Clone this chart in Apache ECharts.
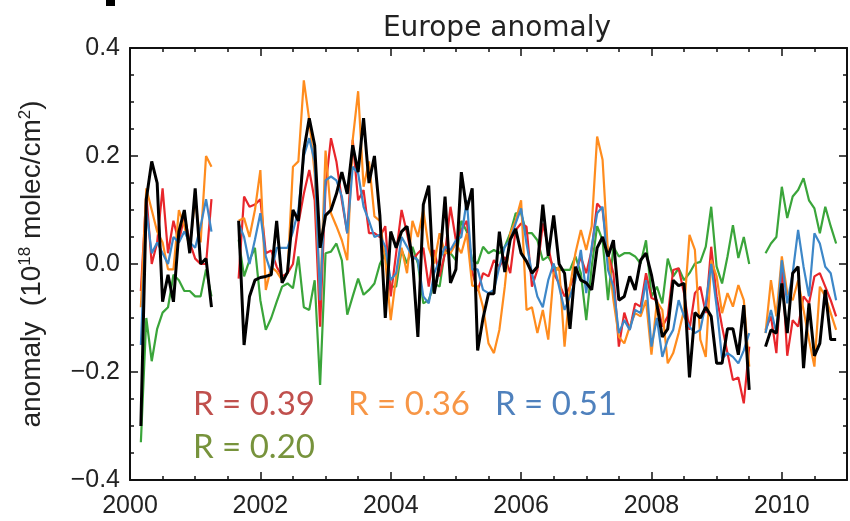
<!DOCTYPE html>
<html lang="en">
<head>
    <meta charset="UTF-8">
    <title>Europe anomaly</title>
    <script src="https://cdn.jsdelivr.net/npm/echarts@6/dist/echarts.min.js"></script>
    <style>
        html, body { margin: 0; padding: 0; background: #fff; }
        #container { width: 850px; height: 521px; }
    </style>
</head>
<body>
<div id="container"></div>

<script type="text/javascript">
    // monthly anomalies, three data segments (month index from Jan 2000)
    var startYear = 2000;
    var segStarts = [2, 20, 117];

    var red1 = [-0.05, 0.13, 0.00, 0.04, 0.14, 0.02, 0.08, 0.04, 0.09, 0.04, 0.01, 0.00, 0.00, 0.12];
    var red2 = [
        -0.027, 0.125, 0.106, 0.11, 0.12, 0.02, 0.025, -0.005, -0.023, -0.017,
        0.0, 0.075, 0.13, 0.174, 0.118, -0.116, 0.143, 0.233, 0.19, 0.118,
        0.057, 0.23, 0.118, 0.137, 0.057, 0.057, 0.05, 0.07, -0.06, 0.02,
        0.10, 0.057, 0.007, 0.02, 0.03, -0.042, 0.026, -0.023, 0.02, 0.106,
        0.044, 0.063, 0.08, -0.015, -0.05, -0.017, -0.023, 0.007, -0.005, 0.013,
        -0.017, 0.063, 0.075, 0.069, -0.042, -0.011, 0.075, 0.032, -0.017, -0.036,
        -0.06, -0.042, -0.017, 0.013, -0.017, 0.026, 0.112, 0.10, 0.02, -0.017,
        -0.153, -0.09, -0.122, -0.073, -0.079, -0.017, -0.063, -0.067, -0.116, -0.097,
        -0.011, -0.008, -0.054, -0.122, -0.054, -0.042, -0.091, 0.032, -0.06, -0.116,
        -0.165, -0.215, -0.21, -0.258, -0.153
    ];
    var red3 = [-0.122, -0.097, -0.165, 0.0, -0.17, -0.104, -0.116, -0.06, -0.073, -0.023, -0.017, -0.042, -0.067, -0.097];

    var orange1 = [-0.08, 0.14, 0.10, 0.06, 0.04, -0.01, -0.01, 0.10, 0.07, 0.03, 0.12, 0.04, 0.20, 0.18];
    var orange2 = [
        0.08, 0.085, 0.05, 0.10, 0.174, -0.048, -0.005, -0.014, -0.03, -0.017,
        0.18, 0.19, 0.34, 0.267, 0.168, -0.067, 0.21, 0.094, 0.07, 0.044,
        0.007, 0.23, 0.32, 0.143, 0.19, 0.088, 0.08, 0.007, -0.104, -0.023,
        0.03, -0.017, 0.08, 0.05, 0.10, 0.03, 0.001, 0.057, 0.02, 0.02,
        0.038, 0.02, 0.057, -0.04, -0.042, -0.08, -0.147, -0.165, -0.122, -0.042,
        0.057, 0.08, 0.118, -0.085, -0.08, -0.128, -0.085, -0.14, -0.017, -0.005,
        -0.153, -0.042, 0.02, 0.063, 0.026, 0.07, 0.236, 0.193, 0.02, -0.067,
        -0.135, -0.147, -0.116, -0.091, -0.097, -0.067, -0.168, -0.07, -0.085, -0.184,
        -0.165, -0.128, -0.085, 0.054, 0.026, -0.14, -0.172, 0.007, -0.023, -0.091,
        -0.054, -0.079, -0.039, -0.067, -0.19
    ];
    var orange3 = [-0.128, -0.03, -0.097, 0.014, -0.054, -0.067, -0.03, -0.085, -0.14, -0.19, -0.042, -0.06, -0.091, -0.122];

    var blue1 = [-0.15, 0.10, 0.02, 0.04, 0.02, 0.00, 0.05, 0.04, 0.06, 0.04, 0.03, 0.07, 0.12, 0.06];
    var blue2 = [
        0.075, 0.05, 0.0, 0.045, 0.094, 0.014, -0.017, 0.03, 0.03, 0.03,
        0.06, 0.10, 0.20, 0.233, 0.19, -0.067, 0.155, 0.162, 0.155, 0.125,
        0.057, 0.18, 0.168, 0.106, 0.08, 0.05, 0.054, 0.032, -0.03, -0.017,
        0.05, 0.032, 0.014, 0.007, -0.06, -0.073, -0.017, 0.007, 0.032, 0.026,
        0.044, 0.05, 0.118, -0.01, -0.01, -0.048, -0.054, -0.048, -0.005, 0.032,
        0.044, 0.075, 0.103, 0.038, -0.017, -0.06, -0.08, -0.03, 0.001, -0.042,
        -0.085, -0.06, -0.03, 0.026, -0.054, 0.032, 0.094, 0.106, -0.011, -0.042,
        -0.128, -0.104, -0.122, -0.085, -0.091, -0.03, -0.153, -0.1, -0.172, -0.14,
        -0.122, -0.067, -0.097, -0.116, -0.128, -0.122, -0.073, 0.0, -0.079, -0.175,
        -0.165, -0.172, -0.184, -0.16, -0.128
    ];
    var blue3 = [-0.128, -0.085, -0.128, 0.007, -0.073, -0.017, 0.063, -0.005, -0.06, 0.057, 0.038, -0.005, -0.017, -0.067];

    var green1 = [-0.33, -0.10, -0.18, -0.12, -0.09, -0.08, -0.02, -0.03, -0.05, -0.05, -0.06, -0.06, -0.01, -0.06];
    var green2 = [
        0.045, -0.023, 0.007, 0.03, -0.067, -0.122, -0.1, -0.07, -0.042, -0.036,
        -0.045, 0.014, -0.08, -0.085, -0.03, -0.224, 0.02, 0.023, 0.038, 0.007,
        -0.094, -0.06, -0.027, -0.057, -0.048, -0.036, 0.0, 0.02, -0.042, -0.042,
        0.026, 0.001, 0.032, 0.001, -0.073, -0.067, -0.036, -0.042, 0.026, 0.02,
        0.007, 0.08, 0.06, 0.007, 0.001, 0.032, 0.02, 0.026, 0.02, 0.032,
        0.057, 0.094, 0.094, 0.057, 0.057, 0.044, 0.007, 0.014, -0.005, -0.011,
        -0.011, -0.011, 0.014, -0.017, -0.104, -0.005, 0.07, 0.044, -0.067, 0.032,
        0.014, 0.02, 0.02, 0.014, 0.001, 0.044, -0.06, -0.042, -0.073, 0.01,
        -0.023, -0.008, -0.03, -0.017, 0.001, 0.004, 0.032, 0.106, -0.005, -0.036,
        0.014, 0.072, 0.011, 0.05, 0.0
    ];
    var green3 = [0.02, 0.038, 0.05, 0.143, 0.085, 0.125, 0.137, 0.159, 0.118, 0.103, 0.057, 0.106, 0.07, 0.038];

    var black1 = [-0.30, 0.12, 0.19, 0.15, -0.07, -0.02, -0.07, 0.06, 0.10, 0.02, 0.14, 0.00, 0.01, -0.08];
    var black2 = [
        0.08, -0.15, -0.06, -0.03, -0.025, -0.023, -0.02, 0.08, -0.035, -0.015,
        0.10, 0.08, 0.21, 0.27, 0.22, 0.03, 0.09, 0.10, 0.13, 0.17,
        0.13, 0.22, 0.17, 0.27, 0.15, 0.20, 0.09, -0.10, 0.06, 0.03,
        0.06, 0.07, 0.01, -0.135, 0.11, 0.145, -0.055, 0.00, 0.125, -0.035,
        -0.01, 0.17, 0.10, 0.14, -0.16, -0.10, -0.055, -0.055, 0.06, -0.015,
        0.045, 0.065, 0.02, 0.005, -0.017, -0.005, 0.11, 0.015, 0.09, 0.0,
        -0.017, -0.12, -0.005, -0.03, -0.035, -0.048, 0.03, 0.05, 0.014, 0.044,
        -0.067, -0.06, -0.023, -0.048, 0.007, 0.02, -0.02, -0.075, -0.135, -0.12,
        -0.03, -0.04, -0.036, -0.21, -0.09, -0.10, -0.08, -0.097, -0.184, -0.184,
        -0.12, -0.12, -0.168, -0.076, -0.233
    ];
    var black3 = [-0.153, -0.122, -0.128, -0.036, -0.128, -0.017, -0.005, -0.193, -0.073, -0.17, -0.147, -0.048, -0.14, -0.14];

    var rLabels = ['R = 0.39', 'R = 0.36', 'R = 0.51', 'R = 0.20'];

    // join segments into [year, value] pairs, with a break between them
    function toPairs(segs) {
        var out = [];
        for (var s = 0; s < segs.length; s++) {
            if (s > 0) out.push([startYear + (segStarts[s] - 1) / 12, '-']);
            for (var i = 0; i < segs[s].length; i++) {
                out.push([startYear + (segStarts[s] + i) / 12, segs[s][i]]);
            }
        }
        return out;
    }

    var myChart = echarts.init(document.getElementById('container'), null, {renderer: 'canvas'});

    var fontMain = 'Liberation Sans';
    var tickStyle = {show: true, inside: true, length: 8, lineStyle: {color: '#111', width: 1.5}};
    var minorStyle = {show: true, splitNumber: 4, length: 4, lineStyle: {color: '#111', width: 1.5}};
    var lineStyleAxis = {show: true, onZero: false, lineStyle: {color: '#111', width: 2}};

    function series(name, data, color, width) {
        return {
            name: name,
            type: 'line',
            data: toPairs(data),
            xAxisIndex: 0,
            yAxisIndex: 0,
            showSymbol: false,
            connectNulls: false,
            lineStyle: {color: color, width: width},
            itemStyle: {color: color},
            animation: false
        };
    }

    var option = {
        backgroundColor: '#fff',
        animation: false,
        title: {
            text: 'Europe anomaly',
            left: 492,
            textAlign: 'center',
            top: 10,
            textStyle: {fontFamily: 'DejaVu Sans', fontWeight: 'normal', fontSize: 28, color: '#222'}
        },
        grid: {left: 130, right: -5, top: 48, bottom: 41, containLabel: false},
        xAxis: [{
            type: 'value', min: 2000, max: 2011, interval: 2, position: 'bottom',
            axisLine: lineStyleAxis, axisTick: tickStyle, minorTick: minorStyle,
            splitLine: {show: false},
            axisLabel: {
                margin: 14, fontFamily: fontMain, fontSize: 25, color: '#222',
                formatter: function (v) { return v % 2 === 0 ? String(v) : ''; }
            }
        }, {
            type: 'value', min: 2000, max: 2011, interval: 2, position: 'top',
            axisLine: lineStyleAxis, axisTick: tickStyle, minorTick: minorStyle,
            splitLine: {show: false}, axisLabel: {show: false}
        }],
        yAxis: [{
            type: 'value', min: -0.4, max: 0.4, interval: 0.2, position: 'left',
            axisLine: lineStyleAxis, axisTick: tickStyle, minorTick: minorStyle,
            splitLine: {show: false},
            axisLabel: {
                margin: 10, fontFamily: fontMain, fontSize: 25, color: '#222',
                formatter: function (v) { return v.toFixed(1).replace('-', '\u2212'); }
            },
            name: '{a|anomaly  (10}{s|18}{a| molec/cm}{s|2}{a|)}',
            nameLocation: 'middle',
            nameGap: 83,
            nameTextStyle: {
                rich: {
                    a: {fontFamily: fontMain, fontSize: 28, color: '#222', lineHeight: 30},
                    s: {fontFamily: fontMain, fontSize: 17, color: '#222', lineHeight: 16, verticalAlign: 'top'}
                }
            }
        }, {
            type: 'value', min: -0.4, max: 0.4, interval: 0.2, position: 'right',
            axisLine: lineStyleAxis, axisTick: tickStyle, minorTick: minorStyle,
            splitLine: {show: false}, axisLabel: {show: false}
        }],
        series: [
            series('green', [green1, green2, green3], '#3aa53a', 2.2),
            series('red', [red1, red2, red3], '#e8262b', 2.2),
            series('orange', [orange1, orange2, orange3], '#ff8c1e', 2.2),
            series('blue', [blue1, blue2, blue3], '#3d87c8', 2.2),
            series('black', [black1, black2, black3], '#000000', 3)
        ],
        graphic: [
            {type: 'rect', left: 106, top: 0, shape: {width: 9, height: 6}, style: {fill: '#000'}},
            {type: 'text', left: 193, top: 388, style: {text: rLabels[0], fontFamily: 'Lato', fontSize: 33, fill: '#c0504d'}},
            {type: 'text', left: 348, top: 388, style: {text: rLabels[1], fontFamily: 'Lato', fontSize: 33, fill: '#f79646'}},
            {type: 'text', left: 495, top: 388, style: {text: rLabels[2], fontFamily: 'Lato', fontSize: 33, fill: '#4f81bd'}},
            {type: 'text', left: 193, top: 431, style: {text: rLabels[3], fontFamily: 'Lato', fontSize: 33, fill: '#77933c'}}
        ]
    };

    myChart.setOption(option);
    window.addEventListener('resize', myChart.resize);
</script>
</body>
</html>
